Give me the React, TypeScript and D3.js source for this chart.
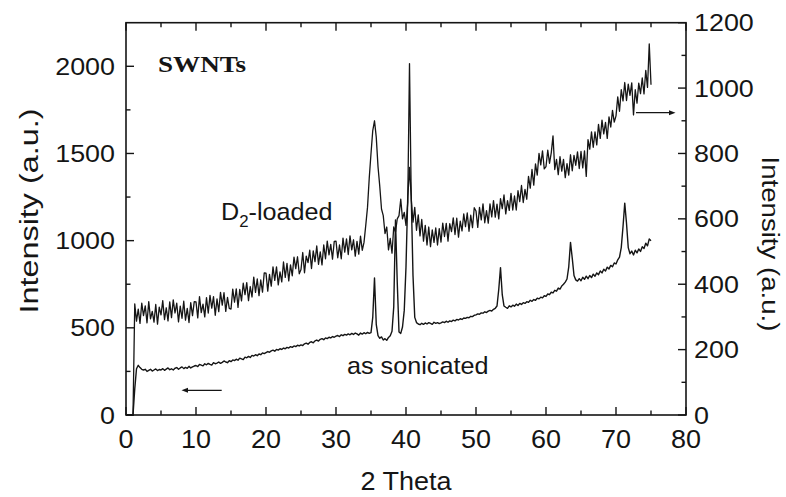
import React from 'react';
import * as d3 from 'd3';

// 2 Theta sampled every 0.25 deg from 0 to 75
const thetaStep = 0.25;
const thetaMax = 75;

// D2-loaded (right axis, a.u.)
const d2Loaded = [
  0, 0, 0, 0, 0, 340, 287, 324, 280, 342, 304, 334, 282, 347, 294, 317, 284, 338, 278, 330,
  306, 350, 292, 328, 288, 346, 298, 352, 312, 342, 285, 333, 296, 348, 290, 326, 283, 344, 304, 347,
  346, 297, 362, 313, 339, 300, 359, 312, 366, 327, 362, 305, 355, 316, 375, 336, 374, 317, 360, 326,
  324, 385, 345, 386, 329, 384, 349, 403, 368, 405, 350, 393, 361, 422, 375, 416, 365, 413, 376, 435,
  434, 379, 430, 394, 453, 412, 453, 398, 438, 407, 468, 421, 464, 410, 459, 426, 483, 448, 484, 432,
  445, 497, 435, 486, 466, 504, 448, 502, 469, 517, 461, 499, 459, 520, 478, 532, 490, 522, 477, 531,
  532, 481, 520, 478, 541, 498, 539, 491, 548, 505, 536, 486, 531, 492, 547, 504, 528, 580, 635, 725,
  800, 870, 900, 850, 760, 700, 630, 610, 555, 575, 505, 540, 495, 575, 560, 600, 610, 660, 600, 620,
  580, 650, 1075, 660, 590, 635, 565, 612, 548, 598, 532, 580, 520, 575, 515, 566, 528, 572, 520, 570,
  529, 587, 546, 586, 532, 585, 561, 603, 552, 602, 544, 593, 563, 615, 576, 618, 562, 611, 573, 634,
  624, 574, 635, 597, 646, 588, 625, 587, 646, 606, 656, 605, 645, 600, 662, 631, 673, 615, 656, 626,
  678, 627, 670, 627, 686, 653, 702, 650, 690, 660, 730, 694, 751, 703, 768, 734, 800, 765, 808, 753,
  760, 810, 770, 802, 854, 751, 782, 735, 790, 746, 782, 726, 769, 734, 796, 747, 794, 764, 805, 754,
  806, 756, 808, 730, 842, 813, 866, 819, 866, 826, 889, 846, 902, 860, 895, 846, 912, 881, 932, 896,
  915, 973, 929, 995, 961, 1017, 962, 1012, 978, 1016, 918, 995, 954, 1015, 983, 1031, 982, 1054, 1002, 1135,
  1010,
];

// as sonicated (left axis, a.u.)
const asSonicated = [
  0, 0, 0, 0, 0, 150, 265, 285, 272, 262, 258, 262, 250, 256, 262, 252, 258, 264, 255, 261,
  258, 266, 256, 263, 270, 260, 265, 258, 268, 272, 262, 270, 276, 266, 273, 268, 279, 270, 276, 281,
  284, 278, 290, 286, 282, 294, 288, 296, 290, 286, 300, 294, 298, 304, 296, 302, 310, 304, 300, 312,
  306, 316, 312, 320, 314, 326, 322, 318, 332, 328, 336, 330, 342, 338, 346, 340, 350, 346, 356, 352,
  358, 364, 360, 368, 372, 366, 376, 372, 380, 376, 384, 380, 388, 384, 392, 388, 396, 392, 400, 396,
  402, 398, 408, 412, 406, 416, 420, 414, 425, 430, 424, 434, 438, 432, 442, 438, 446, 442, 450, 446,
  452, 456, 450, 460, 455, 462, 458, 465, 460, 468, 462, 470, 465, 458, 470, 464, 472, 466, 474, 468,
  472, 560, 786, 520, 455, 440, 448, 430, 438, 428, 445, 455, 480, 620, 1118, 760, 476, 468, 505, 600,
  850, 1250, 1420, 1250, 800, 560, 530, 522, 518, 526, 520, 528, 522, 530, 525, 520, 532, 526, 530, 524,
  528, 534, 530, 538, 532, 540, 536, 544, 540, 548, 545, 552, 548, 556, 554, 560, 558, 566, 564, 572,
  574, 580, 578, 586, 584, 592, 588, 596, 600, 596, 606, 612, 625, 720, 845, 690, 625, 618, 612, 626,
  620, 630, 624, 636, 628, 640, 634, 644, 640, 650, 646, 658, 652, 662, 658, 670, 666, 676, 672, 684,
  680, 694, 690, 704, 700, 715, 710, 728, 722, 740, 750, 762, 780, 850, 990, 900, 800, 775, 768, 782,
  770, 790, 778, 796, 782, 800, 788, 808, 796, 815, 805, 826, 815, 836, 826, 848, 838, 858, 850, 872,
  866, 890, 905, 960, 1080, 1215, 1100, 960, 925, 940, 918, 945, 930, 952, 938, 965, 955, 985, 970, 1010,
  1000,
];

const xMajorTicks = [0, 10, 20, 30, 40, 50, 60, 70, 80];
const xMinorTicks = [5, 15, 25, 35, 45, 55, 65, 75];
const leftMajorTicks = [0, 500, 1000, 1500, 2000];
const leftMinorTicks = [250, 750, 1250, 1750];
const rightMajorTicks = [0, 200, 400, 600, 800, 1000, 1200];
const rightMinorTicks = [100, 300, 500, 700, 900, 1100];

const W = 786;
const H = 497;
const plot = { left: 126, right: 686, top: 22.7, bottom: 415 };
const ink = '#151515';
const sans = '"Liberation Sans", Arial, Helvetica, sans-serif';

const x = d3.scaleLinear().domain([0, 80]).range([plot.left, plot.right]);
const yLeft = d3.scaleLinear().domain([0, 2250]).range([plot.bottom, plot.top]);
const yRight = d3.scaleLinear().domain([0, 1200]).range([plot.bottom, plot.top]);
const theta = d3.range(0, thetaMax + 0.001, thetaStep);

const MAJOR = 8;
const MINOR = 4.5;

// text drawn a bit wider, like the original figure
const Label = ({ x, y, anchor = 'start', size = 24, sx = 1.1, children }: any) => (
  <g transform={`translate(${x},${y}) scale(${sx},1)`}>
    <text textAnchor={anchor} fontSize={size} fontFamily={sans} fill={ink}>
      {children}
    </text>
  </g>
);

export default function App() {
  const d2Line = d3.line<number>()
    .x((_, i) => x(theta[i]))
    .y(v => yRight(v))(d2Loaded);
  const sonLine = d3.line<number>()
    .x((_, i) => x(theta[i]))
    .y(v => yLeft(v))(asSonicated);

  return (
    <svg width={W} height={H} style={{ position: 'absolute', left: 0, top: 0, background: '#fff' }}>
      {/* curves */}
      <path d={sonLine || ''} fill="none" stroke={ink} strokeWidth={1.4} strokeLinejoin="round" />
      <path d={d2Line || ''} fill="none" stroke={ink} strokeWidth={1.3} strokeLinejoin="round" />

      {/* frame */}
      <rect x={plot.left} y={plot.top} width={plot.right - plot.left} height={plot.bottom - plot.top}
        fill="none" stroke={ink} strokeWidth={1.6} />

      {/* x ticks top and bottom */}
      {xMajorTicks.map(t => (
        <g key={'xM' + t}>
          <line x1={x(t)} x2={x(t)} y1={plot.bottom} y2={plot.bottom - MAJOR} stroke={ink} strokeWidth={1.4} />
          <line x1={x(t)} x2={x(t)} y1={plot.top} y2={plot.top + MAJOR} stroke={ink} strokeWidth={1.4} />
          <Label x={x(t)} y={448} anchor="middle" size={25} sx={1.08}>{t}</Label>
        </g>
      ))}
      {xMinorTicks.map(t => (
        <g key={'xm' + t}>
          <line x1={x(t)} x2={x(t)} y1={plot.bottom} y2={plot.bottom - MINOR} stroke={ink} strokeWidth={1.4} />
          <line x1={x(t)} x2={x(t)} y1={plot.top} y2={plot.top + MINOR} stroke={ink} strokeWidth={1.4} />
        </g>
      ))}

      {/* left axis */}
      {leftMajorTicks.map(t => (
        <g key={'lM' + t}>
          <line x1={plot.left} x2={plot.left + MAJOR} y1={yLeft(t)} y2={yLeft(t)} stroke={ink} strokeWidth={1.4} />
          <Label x={plot.left - 11} y={yLeft(t) + 8.5} anchor="end" size={24} sx={1.12}>{t}</Label>
        </g>
      ))}
      {leftMinorTicks.map(t => (
        <line key={'lm' + t} x1={plot.left} x2={plot.left + MINOR} y1={yLeft(t)} y2={yLeft(t)} stroke={ink} strokeWidth={1.4} />
      ))}

      {/* right axis */}
      {rightMajorTicks.map(t => (
        <g key={'rM' + t}>
          <line x1={plot.right} x2={plot.right - MAJOR} y1={yRight(t)} y2={yRight(t)} stroke={ink} strokeWidth={1.4} />
          <Label x={plot.right + 8} y={yRight(t) + 8.5} anchor="start" size={24} sx={1.12}>{t}</Label>
        </g>
      ))}
      {rightMinorTicks.map(t => (
        <line key={'rm' + t} x1={plot.right} x2={plot.right - MINOR} y1={yRight(t)} y2={yRight(t)} stroke={ink} strokeWidth={1.4} />
      ))}

      {/* axis titles */}
      <Label x={406} y={490} anchor="middle" size={25} sx={1.08}>2 Theta</Label>
      <text transform={`translate(38,211) rotate(-90)`} textAnchor="middle" fontSize={25} fontFamily={sans}
        fill={ink} textLength={205} lengthAdjust="spacingAndGlyphs">Intensity (a.u.)</text>
      <text transform={`translate(762,244) rotate(90)`} textAnchor="middle" fontSize={23} fontFamily={sans}
        fill={ink} textLength={175} lengthAdjust="spacingAndGlyphs">Intensity (a.u.)</text>

      {/* annotations */}
      <text x={158} y={72.3} fontSize={23} fontWeight="bold" fontFamily='"Liberation Serif", "Times New Roman", serif'
        fill={ink} textLength={88} lengthAdjust="spacingAndGlyphs">SWNTs</text>
      <Label x={221} y={220} size={24} sx={1.05}>
        D<tspan fontSize={16} dy={7}>2</tspan><tspan dy={-7}>-loaded</tspan>
      </Label>
      <Label x={347} y={374} size={24} sx={1.05}>as sonicated</Label>

      {/* arrows pointing to the axis of each curve */}
      <line x1={221.7} x2={186} y1={390.3} y2={390.3} stroke={ink} strokeWidth={1.2} />
      <path d="M181.5,390.3 L188,387.8 L188,392.8 Z" fill={ink} />
      <line x1={636} x2={671} y1={112.7} y2={112.7} stroke={ink} strokeWidth={1.2} />
      <path d="M675.5,112.7 L669,110.2 L669,115.2 Z" fill={ink} />
    </svg>
  );
}
